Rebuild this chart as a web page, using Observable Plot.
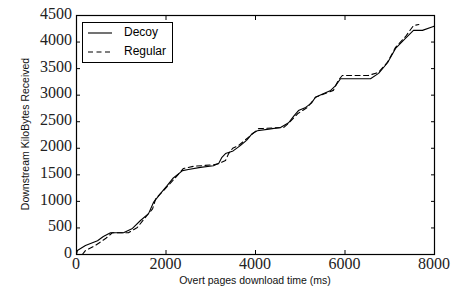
<!DOCTYPE html>
<html><head><meta charset="utf-8">
<script src="https://cdn.jsdelivr.net/npm/d3@7"></script>
<script src="https://cdn.jsdelivr.net/npm/@observablehq/plot@0.6"></script>
<style>body{margin:0;background:#fff;overflow:hidden}</style>
</head><body><div id="chart"></div>
<script>
const seriesNames = ["Decoy", "Regular"];
const decoyTime = [0,20,200,470,600,760,900,1050,1250,1430,1610,1720,1880,2030,2150,2370,2500,2770,3060,3180,3250,3330,3500,3660,3800,3930,4040,4300,4560,4740,4850,4960,5120,5250,5340,5500,5680,5790,5900,6200,6570,6750,6950,7130,7350,7530,7730,7960,8000];
const decoyKB   = [0,75,170,260,340,410,410,410,490,640,770,980,1150,1300,1430,1580,1600,1640,1670,1720,1830,1900,1950,2050,2150,2280,2330,2360,2390,2480,2600,2710,2770,2850,2960,3020,3090,3180,3310,3310,3310,3410,3610,3880,4070,4220,4220,4290,4300];
const regularTime = [130,200,420,650,800,950,1160,1360,1540,1700,1770,1940,2150,2390,2610,3060,3170,3330,3400,3490,3620,3890,4070,4630,4740,4940,5160,5340,5740,5850,5940,6520,6750,6950,7130,7350,7530,7650];
const regularKB   = [0,75,170,300,410,410,410,510,700,860,1050,1200,1390,1620,1660,1690,1710,1770,1900,2000,2050,2240,2370,2390,2470,2650,2770,2960,3090,3280,3370,3370,3430,3620,3900,4100,4310,4330];
const xTicks = [0, 2000, 4000, 6000, 8000];
const yTicks = [0, 500, 1000, 1500, 2000, 2500, 3000, 3500, 4000, 4500];
const xLabel = "Overt pages download time (ms)";
const yLabel = "Downstream KiloBytes Received";

const decoy = decoyTime.map((t, i) => ({time: t, kb: decoyKB[i]}));
const regular = regularTime.map((t, i) => ({time: t, kb: regularKB[i]}));

const serif = "'Liberation Serif', serif";
const sans = "'Liberation Sans', Arial, sans-serif";
const blank = () => "";

const chart = Plot.plot({
  width: 452, height: 293,
  marginLeft: 76, marginRight: 18, marginTop: 15, marginBottom: 39,
  x: {domain: [0, 8000], ticks: xTicks, label: null},
  y: {domain: [0, 4500], ticks: yTicks, label: null},
  marks: [
    Plot.line(decoy, {x: "time", y: "kb", stroke: "#000", strokeWidth: 1.1}),
    Plot.line(regular, {x: "time", y: "kb", stroke: "#000", strokeWidth: 1.1, strokeDasharray: "5,3.5"}),
    Plot.axisX({anchor: "bottom", ticks: xTicks, tickSize: -4, tickFormat: blank, stroke: "#000"}),
    Plot.axisX({anchor: "top", ticks: xTicks, tickSize: -4, tickFormat: blank, stroke: "#000"}),
    Plot.axisY({anchor: "left", ticks: yTicks, tickSize: -4, tickFormat: blank, stroke: "#000"}),
    Plot.axisY({anchor: "right", ticks: yTicks, tickSize: -4, tickFormat: blank, stroke: "#000"}),
    Plot.frame({stroke: "#000", strokeWidth: 1.2})
  ]
});
document.getElementById("chart").appendChild(chart);

const svg = d3.select(chart);
const x = chart.scale("x"), y = chart.scale("y");
// tick labels, placed through the plot's own scales
svg.append("g").selectAll("text").data(xTicks).join("text")
  .attr("x", d => x.apply(d)).attr("y", 265).attr("text-anchor", "middle").attr("dominant-baseline", "middle")
  .style("font-family", serif).style("font-size", "16px").attr("fill", "#222").text(d => String(d));
svg.append("g").selectAll("text").data(yTicks).join("text")
  .attr("x", 72).attr("y", d => y.apply(d)).attr("text-anchor", "end").attr("dominant-baseline", "middle")
  .style("font-family", serif).style("font-size", "16px").attr("fill", "#222").text(d => String(d));
// axis titles
svg.append("text").attr("x", 255).attr("y", 281).attr("text-anchor", "middle")
  .attr("dominant-baseline", "middle").style("font-family", sans).style("font-size", "10.5px").attr("fill", "#111").text(xLabel);
svg.append("text").attr("transform", "translate(26,134) rotate(-90)").attr("text-anchor", "middle")
  .attr("dominant-baseline", "middle").style("font-family", sans).style("font-size", "10.5px").attr("fill", "#111").text(yLabel);
// legend
const lg = svg.append("g");
lg.append("rect").attr("x", 82.5).attr("y", 22.5).attr("width", 90).attr("height", 40)
  .attr("fill", "#fff").attr("stroke", "#000").attr("stroke-width", 1);
const dashes = [null, "5,3.5"];
seriesNames.forEach((name, i) => {
  const yy = 33 + i * 19;
  lg.append("line").attr("x1", 88).attr("x2", 112).attr("y1", yy).attr("y2", yy)
    .attr("stroke", "#000").attr("stroke-width", 1.1).attr("stroke-dasharray", dashes[i]);
  lg.append("text").attr("x", 124).attr("y", yy).attr("text-anchor", "start").attr("dominant-baseline", "middle")
    .style("font-family", sans).style("font-size", "12px").attr("fill", "#000").text(name);
});
</script>
</body></html>
